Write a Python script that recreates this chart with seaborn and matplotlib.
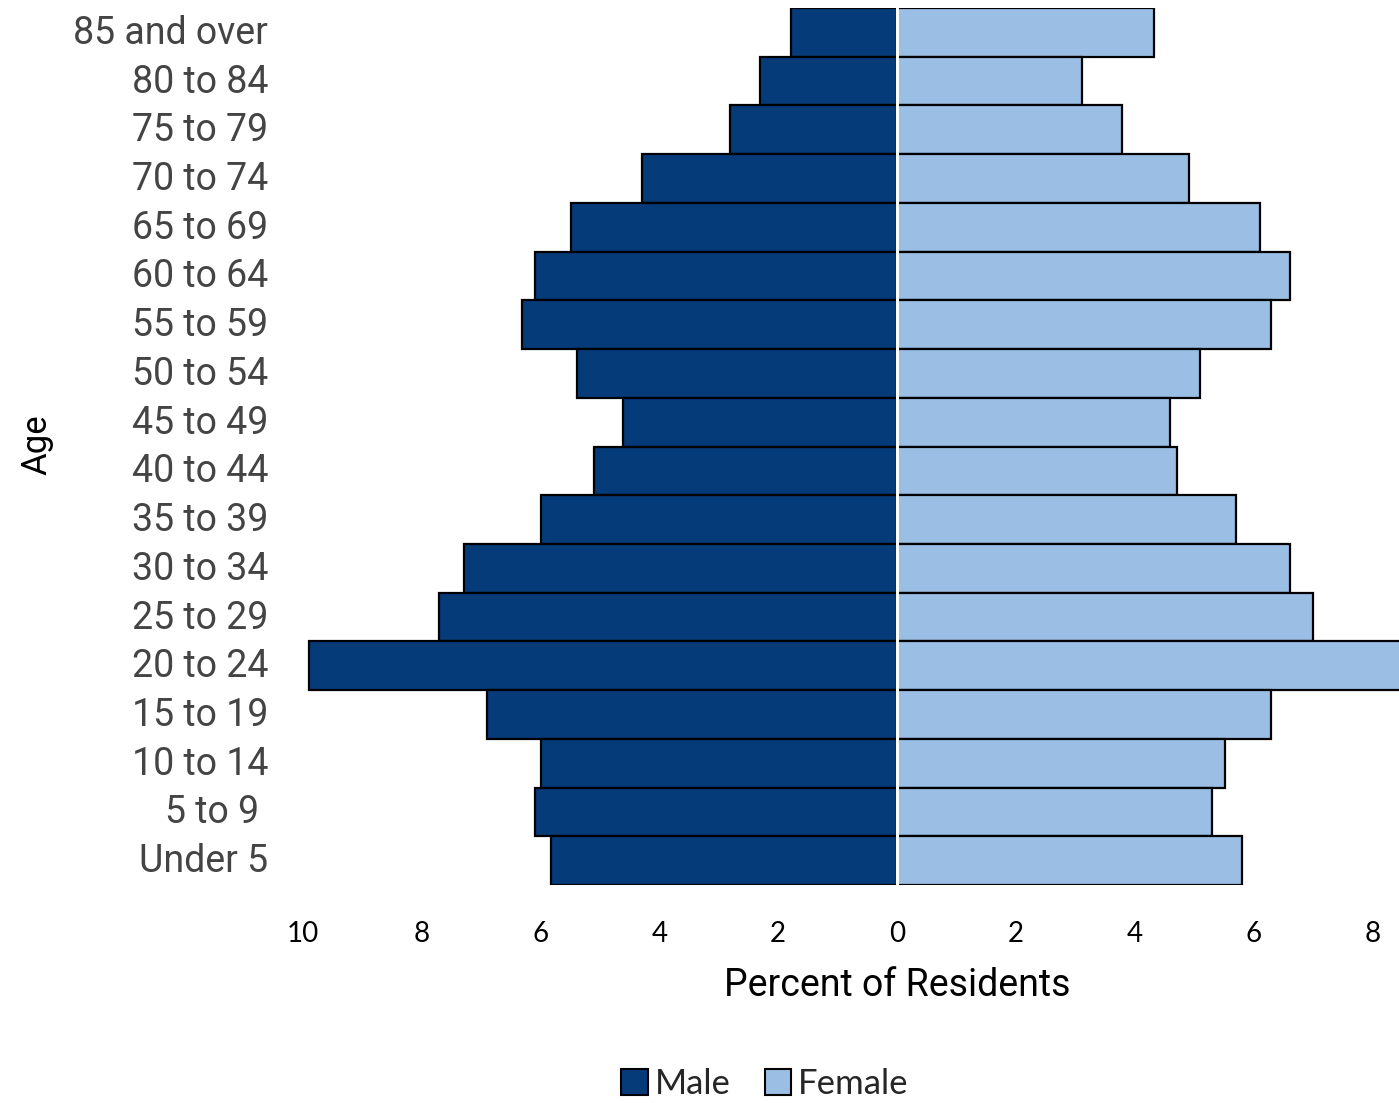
import matplotlib
matplotlib.use("Agg")
import matplotlib.pyplot as plt
import matplotlib.transforms as mtransforms
import seaborn as sns
import pandas as pd
from matplotlib.patches import Patch

# Age groups, top of the pyramid first
age_groups = ["85 and over", "80 to 84", "75 to 79", "70 to 74", "65 to 69",
              "60 to 64", "55 to 59", "50 to 54", "45 to 49", "40 to 44",
              "35 to 39", "30 to 34", "25 to 29", "20 to 24", "15 to 19",
              "10 to 14", "5 to 9 ", "Under 5"]

# Percent of residents in each age group
male_pct = [1.78, 2.31, 2.81, 4.29, 5.49, 6.09, 6.31, 5.39, 4.61, 5.10,
            5.99, 7.29, 7.71, 9.90, 6.90, 5.99, 6.09, 5.82]
female_pct = [4.33, 3.11, 3.79, 4.92, 6.11, 6.62, 6.30, 5.10, 4.60, 4.71,
              5.71, 6.62, 7.00, 8.60, 6.30, 5.52, 5.30, 5.81]

x_ticks = [-10, -8, -6, -4, -2, 0, 2, 4, 6, 8]
x_tick_labels = ["10", "8", "6", "4", "2", "0", "2", "4", "6", "8"]

sexes = ["Male", "Female"]
colors = {"Male": "#063B7A", "Female": "#9BBEE5"}

sns.set_theme(style="white")
plt.rcParams["font.family"] = ["Roboto", "DejaVu Sans"]

df = pd.DataFrame({
    "Age": age_groups * 2,
    "Sex": ["Male"] * len(age_groups) + ["Female"] * len(age_groups),
    "Percent": [-v for v in male_pct] + female_pct,
})

W, H = 1399, 1103
fig = plt.figure(figsize=(W / 100, H / 100), dpi=100)
ax = fig.add_axes([303 / W, 1 - 885 / H, 1 - 303 / W, (885 - 8) / H])

sns.barplot(data=df, x="Percent", y="Age", hue="Sex", order=age_groups,
            hue_order=sexes, palette=colors, orient="h", dodge=False,
            width=1.0, saturation=1, edgecolor="black", linewidth=1.6,
            legend=False, ax=ax)

ax.axvline(0, color="white", lw=2.2, zorder=5)

ax.set_xlim(-10, 8.45)
ax.set_ylim(len(age_groups) - 0.5, -0.5)
ax.set_xticks(x_ticks)
ax.set_xticklabels(x_tick_labels, family=["Lato", "DejaVu Sans"],
                   fontsize=20, color="black")
ax.tick_params(axis="x", length=0, pad=26)
ax.tick_params(axis="y", length=0, pad=25, labelsize=27, labelcolor="#444444")
# nudge the age labels up a little
lift = mtransforms.ScaledTranslation(0, 3 / 100, fig.dpi_scale_trans)
for lbl in ax.get_yticklabels():
    lbl.set_transform(lbl.get_transform() + lift)
for s in ax.spines.values():
    s.set_visible(False)

ax.set_xlabel("Percent of Residents", fontsize=27, color="black")
# centre the axis title on the zero line
ax.xaxis.set_label_coords((0 - (-10)) / (8.45 + 10), -0.093)
ax.set_ylabel("")
fig.text(37 / W, 1 - 445 / H, "Age", rotation=90, fontsize=25,
         color="black", ha="center", va="center")

handles = [Patch(facecolor=colors[s], edgecolor="black", linewidth=1.5)
           for s in sexes]
fig.legend(handles, sexes, loc="center", ncol=2, frameon=False,
           bbox_to_anchor=(765 / W, 1 - 1084 / H),
           prop={"family": ["Lato", "DejaVu Sans"], "size": 25},
           handlelength=0.75, handleheight=0.75, handletextpad=0.2,
           columnspacing=1.0)

fig.savefig("out.png", dpi=100, facecolor="white")
